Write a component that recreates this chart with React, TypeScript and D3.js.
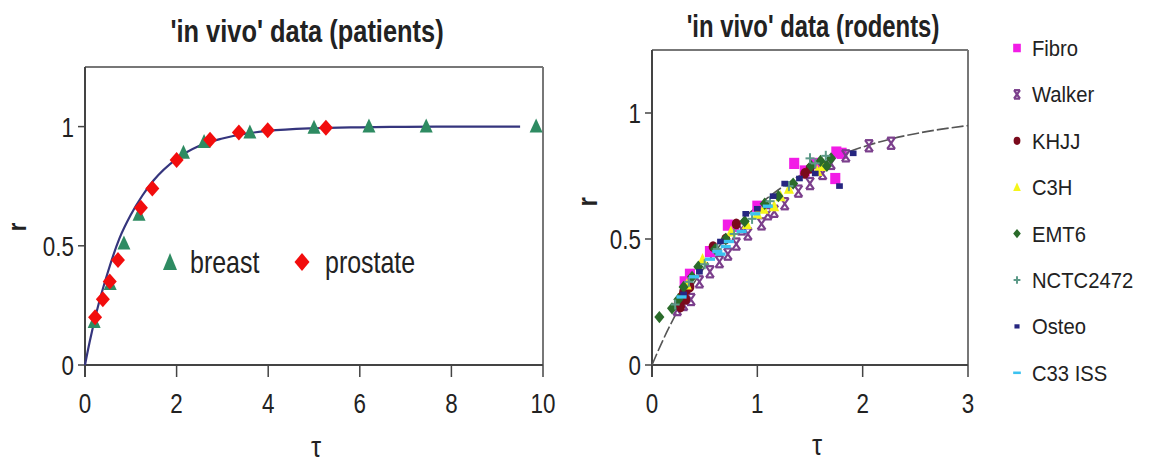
import React from "react";
import * as d3 from "d3";

// ---------- DATA ----------
const leftXTicks = [0, 2, 4, 6, 8, 10];
const leftYTicks = [0, 0.5, 1];
const rightXTicks = [0, 1, 2, 3];
const rightYTicks = [0, 0.5, 1];

// patients
const breast: [number, number][] = [
  [0.2, 0.18], [0.55, 0.34], [0.85, 0.51], [1.18, 0.63], [2.15, 0.89], [2.6, 0.935],
  [3.6, 0.975], [5.0, 0.995], [6.2, 1.0], [7.45, 1.0], [9.85, 1.0],
];
const prostate: [number, number][] = [
  [0.22, 0.2], [0.39, 0.276], [0.54, 0.35], [0.72, 0.44], [1.22, 0.66], [1.47, 0.74],
  [2.0, 0.86], [2.73, 0.945], [3.36, 0.975], [3.99, 0.985], [5.26, 0.995],
];
const leftCurve: [number, number][] = [
  [0, 0], [0.1, 0.095], [0.25, 0.22], [0.5, 0.39], [0.75, 0.53], [1, 0.63], [1.25, 0.71],
  [1.5, 0.775], [2, 0.865], [2.5, 0.92], [3, 0.95], [3.5, 0.97], [4, 0.982], [5, 0.993],
  [6, 0.997], [7, 0.999], [8, 1.0], [9.5, 1.0],
];

// rodents
const rightCurve: [number, number][] = [
  [0, 0], [0.1, 0.095], [0.25, 0.22], [0.5, 0.39], [0.75, 0.53], [1, 0.63], [1.25, 0.71],
  [1.5, 0.775], [1.75, 0.826], [2, 0.865], [2.25, 0.895], [2.5, 0.918], [2.75, 0.936], [3, 0.95],
];
const fibro: [number, number][] = [
  [0.31, 0.33], [0.36, 0.36], [0.55, 0.45], [0.72, 0.555], [0.78, 0.55], [1.0, 0.63],
  [1.35, 0.8], [1.45, 0.77], [1.55, 0.8], [1.74, 0.74], [1.75, 0.845], [1.8, 0.84],
];
const walker: [number, number][] = [
  [0.24, 0.22], [0.3, 0.24], [0.37, 0.26], [0.45, 0.33], [0.55, 0.37], [0.64, 0.41],
  [0.72, 0.44], [0.8, 0.48], [0.85, 0.54], [0.91, 0.52], [1.04, 0.56], [1.1, 0.6],
  [1.16, 0.61], [1.26, 0.64], [1.39, 0.69], [1.5, 0.72], [1.62, 0.76], [1.7, 0.8],
  [1.84, 0.83], [2.06, 0.87], [2.27, 0.88],
];
const khjj: [number, number][] = [
  [0.25, 0.25], [0.27, 0.23], [0.28, 0.27], [0.3, 0.29], [0.32, 0.26], [0.33, 0.3],
  [0.36, 0.31], [0.58, 0.47], [0.7, 0.5], [0.8, 0.56], [1.45, 0.76], [1.5, 0.78],
];
const c3h: [number, number][] = [
  [0.33, 0.32], [0.48, 0.42], [0.75, 0.53], [0.9, 0.56], [1.0, 0.6], [1.06, 0.62],
  [1.16, 0.63], [1.22, 0.67], [1.3, 0.7], [1.57, 0.77], [1.62, 0.79],
];
const emt6: [number, number][] = [
  [0.07, 0.19], [0.19, 0.225], [0.25, 0.26], [0.3, 0.31], [0.38, 0.35], [0.44, 0.39],
  [0.6, 0.46], [0.7, 0.5], [0.88, 0.57], [1.07, 0.64], [1.2, 0.67], [1.34, 0.72],
  [1.51, 0.79], [1.6, 0.81], [1.66, 0.79], [1.7, 0.82],
];
const nctc2472: [number, number][] = [
  [0.22, 0.24], [0.35, 0.33], [0.5, 0.4], [0.62, 0.46], [0.78, 0.52], [0.95, 0.58],
  [1.12, 0.65], [1.3, 0.71], [1.5, 0.82], [1.55, 0.8], [1.65, 0.83],
];
const osteo: [number, number][] = [
  [0.3, 0.28], [0.45, 0.37], [0.65, 0.49], [0.89, 0.6], [1.0, 0.62], [1.15, 0.67],
  [1.26, 0.72], [1.4, 0.74], [1.55, 0.76], [1.78, 0.71], [1.91, 0.84],
];
const c33iss: [number, number][] = [
  [0.28, 0.27], [0.4, 0.35], [0.55, 0.42], [0.62, 0.45], [0.65, 0.44], [0.7, 0.47],
  [0.73, 0.49], [0.85, 0.53], [0.98, 0.6], [1.1, 0.63],
];

const rodentSeries = [
  { name: "Fibro", data: fibro, color: "#f21ce6", shape: "square" },
  { name: "Walker", data: walker, color: "#7b3f8c", shape: "xbar" },
  { name: "KHJJ", data: khjj, color: "#7a0a1c", shape: "circle" },
  { name: "C3H", data: c3h, color: "#f5f51a", shape: "triangle" },
  { name: "EMT6", data: emt6, color: "#2a6b2a", shape: "diamond" },
  { name: "NCTC2472", data: nctc2472, color: "#5d9a88", shape: "plus" },
  { name: "Osteo", data: osteo, color: "#262680", shape: "dot" },
  { name: "C33 ISS", data: c33iss, color: "#3cc2f0", shape: "dash" },
];

// ---------- HELPERS ----------
const FONT = "'Liberation Sans', Arial, sans-serif";

function T(props: {
  x: number; y: number; fs: number; sx?: number; anchor?: string; weight?: string;
  rotate?: number; fill?: string; children: React.ReactNode;
}) {
  const { x, y, fs, sx = 0.8, anchor = "start", weight = "normal", rotate = 0, fill = "#222" } = props;
  return (
    <text
      transform={`translate(${x},${y}) rotate(${rotate}) scale(${sx},1)`}
      fontSize={fs}
      fontFamily={FONT}
      fontWeight={weight}
      textAnchor={anchor}
      fill={fill}
    >
      {props.children}
    </text>
  );
}

function Marker({ shape, x, y, color, s = 1 }: { shape: string; x: number; y: number; color: string; s?: number }) {
  switch (shape) {
    case "square":
      return <rect x={x - 4.5 * s} y={y - 5 * s} width={9 * s} height={10 * s} fill={color} />;
    case "circle":
      return <ellipse cx={x} cy={y} rx={4 * s} ry={4.8 * s} fill={color} />;
    case "triangle":
      return <path d={`M${x},${y - 5.5 * s}L${x + 4.5 * s},${y + 4.5 * s}L${x - 4.5 * s},${y + 4.5 * s}Z`} fill={color} />;
    case "diamond":
      return <path d={`M${x},${y - 5.5 * s}L${x + 4.5 * s},${y}L${x},${y + 5.5 * s}L${x - 4.5 * s},${y}Z`} fill={color} />;
    case "plus":
      return (
        <g stroke={color} strokeWidth={2}>
          <line x1={x - 4 * s} y1={y} x2={x + 4 * s} y2={y} />
          <line x1={x} y1={y - 4.5 * s} x2={x} y2={y + 4.5 * s} />
        </g>
      );
    case "xbar":
      return (
        <g stroke={color} strokeWidth={2.2} fill="none">
          <line x1={x - 3.5 * s} y1={y - 5 * s} x2={x + 3.5 * s} y2={y + 5 * s} />
          <line x1={x + 3.5 * s} y1={y - 5 * s} x2={x - 3.5 * s} y2={y + 5 * s} />
          <line x1={x - 3.5 * s} y1={y - 5 * s} x2={x + 3.5 * s} y2={y - 5 * s} />
          <line x1={x - 3.5 * s} y1={y + 5 * s} x2={x + 3.5 * s} y2={y + 5 * s} />
        </g>
      );
    case "dot":
      return <rect x={x - 3 * s} y={y - 2.5 * s} width={6 * s} height={5 * s} fill={color} />;
    case "dash":
      return <rect x={x - 4.5 * s} y={y - 1.5 * s} width={9 * s} height={3 * s} fill={color} />;
    default:
      return null;
  }
}

function Frame({ x0, x1, y0, y1 }: { x0: number; x1: number; y0: number; y1: number }) {
  return (
    <g>
      <line x1={x0} y1={y0} x2={x1} y2={y0} stroke="#777" strokeWidth={2} />
      <line x1={x1} y1={y0} x2={x1} y2={y1} stroke="#777" strokeWidth={2} />
      <line x1={x0} y1={y0} x2={x0} y2={y1 + 12} stroke="#444" strokeWidth={2} />
      <line x1={x0} y1={y1} x2={x1} y2={y1} stroke="#444" strokeWidth={2} />
    </g>
  );
}

export default function App() {
  // left panel scales
  const lx = d3.scaleLinear().domain([0, 10]).range([85, 543]);
  const ly = d3.scaleLinear().domain([0, 1.25]).range([365, 67]);
  // right panel scales
  const rx = d3.scaleLinear().domain([0, 3]).range([652, 968]);
  const ry = d3.scaleLinear().domain([0, 1.25]).range([365, 50]);

  const lLine = d3.line<[number, number]>().x((d) => lx(d[0])).y((d) => ly(d[1])).curve(d3.curveMonotoneX);
  const rLine = d3.line<[number, number]>().x((d) => rx(d[0])).y((d) => ry(d[1])).curve(d3.curveMonotoneX);

  const tickFs = 28;
  const tickSx = 0.8;

  return (
    <svg width={1149} height={465} style={{ position: "absolute", left: 0, top: 0, background: "#fff" }}>
      <rect x={0} y={0} width={1149} height={465} fill="#fff" />

      {/* ---------- LEFT PANEL ---------- */}
      <T x={307} y={42} fs={31} sx={0.82} anchor="middle" weight="bold">'in vivo' data (patients)</T>
      <Frame x0={lx(0)} x1={lx(10)} y0={ly(1.25)} y1={ly(0)} />
      {leftXTicks.map((t) => (
        <g key={`lxt${t}`}>
          <line x1={lx(t)} x2={lx(t)} y1={ly(0)} y2={ly(0) + 12} stroke="#444" strokeWidth={1.5} />
          <T x={lx(t)} y={413} fs={tickFs} sx={tickSx} anchor="middle">{String(t)}</T>
        </g>
      ))}
      {leftYTicks.map((t) => (
        <g key={`lyt${t}`}>
          <line x1={lx(0) - 7} x2={lx(0)} y1={ly(t)} y2={ly(t)} stroke="#444" strokeWidth={1.5} />
          <T x={lx(0) - 11} y={ly(t) + 10} fs={tickFs} sx={tickSx} anchor="end">{String(t)}</T>
        </g>
      ))}
      <path d={lLine(leftCurve) || ""} fill="none" stroke="#35357d" strokeWidth={2.2} />
      {breast.map((d, i) => (
        <path
          key={`b${i}`}
          d={`M${lx(d[0])},${ly(d[1]) - 8}L${lx(d[0]) + 6.5},${ly(d[1]) + 6}L${lx(d[0]) - 6.5},${ly(d[1]) + 6}Z`}
          fill="#2e8b62"
        />
      ))}
      {prostate.map((d, i) => (
        <path
          key={`p${i}`}
          d={`M${lx(d[0])},${ly(d[1]) - 8}L${lx(d[0]) + 7},${ly(d[1])}L${lx(d[0])},${ly(d[1]) + 8}L${lx(d[0]) - 7},${ly(d[1])}Z`}
          fill="#f20d0d"
        />
      ))}
      {/* left legend */}
      <path d="M170,253L177,270L163,270Z" fill="#2e8b62" />
      <T x={190} y={273} fs={32} sx={0.78}>breast</T>
      <path d="M302,253L309.5,262L302,271L294.5,262Z" fill="#f20d0d" />
      <T x={325} y={273} fs={32} sx={0.78}>prostate</T>
      <T x={26} y={227} fs={26} sx={0.85} anchor="middle" weight="bold" rotate={-90}>r</T>
      <T x={316} y={457} fs={30} sx={0.85} anchor="middle">τ</T>

      {/* ---------- RIGHT PANEL ---------- */}
      <T x={813} y={37} fs={31} sx={0.77} anchor="middle" weight="bold">'in vivo' data (rodents)</T>
      <Frame x0={rx(0)} x1={rx(3)} y0={ry(1.25)} y1={ry(0)} />
      {rightXTicks.map((t) => (
        <g key={`rxt${t}`}>
          <line x1={rx(t)} x2={rx(t)} y1={ry(0)} y2={ry(0) + 12} stroke="#444" strokeWidth={1.5} />
          <T x={rx(t)} y={413} fs={tickFs} sx={tickSx} anchor="middle">{String(t)}</T>
        </g>
      ))}
      {rightYTicks.map((t) => (
        <g key={`ryt${t}`}>
          <line x1={rx(0) - 7} x2={rx(0)} y1={ry(t)} y2={ry(t)} stroke="#444" strokeWidth={1.5} />
          <T x={rx(0) - 11} y={ry(t) + 10} fs={tickFs} sx={tickSx} anchor="end">{String(t)}</T>
        </g>
      ))}
      <path d={rLine(rightCurve) || ""} fill="none" stroke="#555" strokeWidth={1.6} strokeDasharray="12,3" />
      {rodentSeries.map((s) =>
        s.data.map((d, i) => (
          <Marker key={`${s.name}${i}`} shape={s.shape} x={rx(d[0])} y={ry(d[1])} color={s.color} s={1.12} />
        ))
      )}
      <T x={597} y={202} fs={28} sx={0.85} anchor="middle" weight="bold" rotate={-90}>r</T>
      <T x={817} y={455} fs={30} sx={0.85} anchor="middle">τ</T>

      {/* right legend */}
      {rodentSeries.map((s, i) => {
        const cy = 48 + i * 46.4;
        return (
          <g key={`leg${s.name}`}>
            <Marker shape={s.shape} x={1017} y={cy} color={s.color} s={0.85} />
            <T x={1032} y={cy + 8} fs={22} sx={0.92}>{s.name}</T>
          </g>
        );
      })}
    </svg>
  );
}
